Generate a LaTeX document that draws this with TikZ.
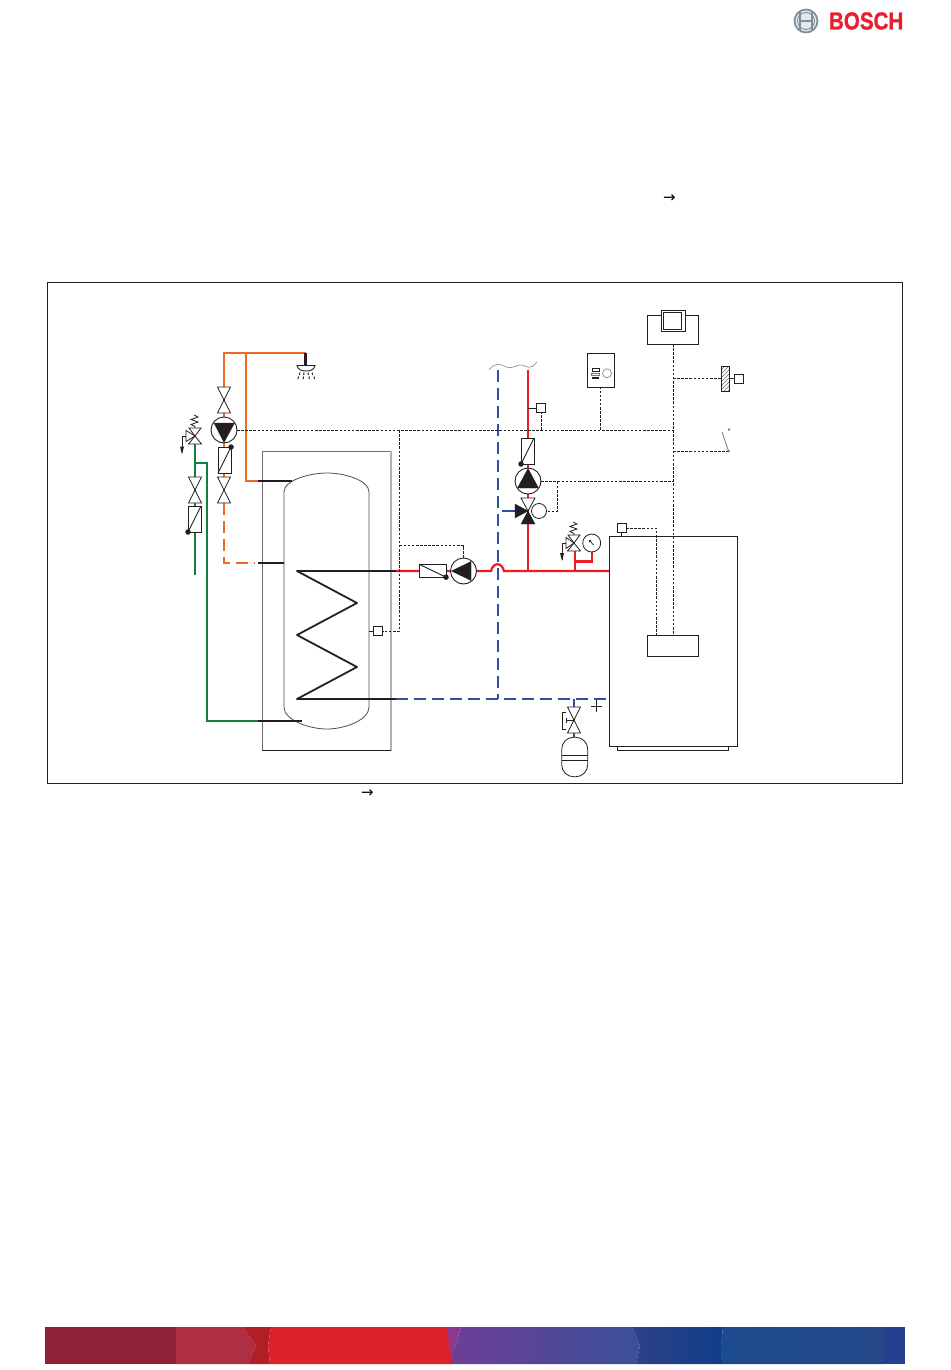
\documentclass[tikz,border=0pt]{standalone}
\usepackage{fontspec}
\usepackage{graphicx}
\newfontfamily\dejavu{DejaVu Sans}
\newfontfamily\boschfont[BoldFeatures={FakeBold=1.2}]{Liberation Sans}
\definecolor{pipeorange}{HTML}{F26A21}
\definecolor{pipegreen}{HTML}{0F8040}
\definecolor{pipered}{HTML}{ED1C24}
\definecolor{pipeblue}{HTML}{2F4FA2}
\definecolor{boschred}{HTML}{E8202E}
\definecolor{metal}{HTML}{7F8E99}
\definecolor{ink}{HTML}{231F20}
\definecolor{bandA}{HTML}{8F2136}
\definecolor{bandB}{HTML}{AE2E42}
\definecolor{bandC}{HTML}{B11F24}
\definecolor{bandD}{HTML}{DC2228}
\definecolor{bandE}{HTML}{8B3A8F}
\definecolor{bandF}{HTML}{25408F}
\definecolor{gradA}{HTML}{6E3E98}
\definecolor{gradB}{HTML}{3A5098}
\definecolor{gradC}{HTML}{2F4188}
\definecolor{gradD}{HTML}{0F3E88}
\definecolor{gradE}{HTML}{1C4B8E}
\definecolor{gradF}{HTML}{244888}
\tikzset{
  x=1pt,y=-1pt,
  pipe/.style={line width=2.2pt,line join=miter},
  orangepipe/.style={pipe,draw=pipeorange},
  greenpipe/.style={pipe,draw=pipegreen},
  redpipe/.style={pipe,draw=pipered},
  bluepipe/.style={pipe,draw=pipeblue},
  blackpipe/.style={pipe,draw=ink},
  longdash/.style={dash pattern=on 12pt off 6pt},
  signal/.style={draw=ink,line width=0.8pt,dash pattern=on 2.6pt off 1.5pt},
  thinline/.style={draw=ink,line width=0.9pt},
  box/.style={draw=ink,line width=0.9pt,fill=white,inner sep=0pt,outer sep=0pt,rectangle},
  pumpc/.style={draw=ink,line width=0.9pt,fill=white,circle,inner sep=0pt,outer sep=0pt,minimum size=26pt},
  solidtri/.style={fill=ink,draw=ink,line width=0.3pt},
  opentri/.style={fill=white,draw=ink,line width=0.8pt},
  dotmark/.style={fill=ink,draw=none,circle,inner sep=0pt,minimum size=5.5pt},
  valve/.pic={\draw[opentri] (-6.5,-13) -- (6.5,-13) -- (-6.5,13) -- (6.5,13) -- cycle;},
}
\begin{document}
\begin{tikzpicture}
\useasboundingbox (0,0) rectangle (950,1370);
% header logo
\node[draw=metal,line width=1.8pt,circle,minimum size=23pt,inner sep=0pt,fill=metal!20] (logo) at (806,21) {};
\draw[metal,line width=1.6pt] (800,12) -- (800,30) (812,12) -- (812,30) (800,21) -- (812,21);
\draw[metal,line width=0.9pt] (logo.center) circle (8.5);
\node[inner sep=0pt,outer sep=0pt,anchor=west,text=boschred] (brand) at (829,21) {\scalebox{0.84}[1]{\boschfont\fontsize{24.5}{24.5}\selectfont\bfseries BOSCH}};
% arrows in running text
\node[inner sep=0pt] (arrowtop) at (669.5,198.5) {\dejavu\fontsize{15}{15}\selectfont →};
\node[inner sep=0pt] (arrowcap) at (367.5,794) {\dejavu\fontsize{15}{15}\selectfont →};
% frame
\node[draw=ink,line width=0.8pt,rectangle,inner sep=0pt,minimum width=855pt,minimum height=501pt] (frame) at (474.5,532.5) {};
% footer band
\fill[bandA] (45,1327) rectangle (176,1364);
\fill[bandB] (176,1327) -- (243,1327) -- (256,1345.5) -- (248,1364) -- (176,1364) -- cycle;
\fill[bandC] (243,1327) -- (271,1327) -- (268,1345.5) -- (270,1364) -- (248,1364) -- (256,1345.5) -- cycle;
\fill[bandD] (271,1327) -- (447,1327) -- (455.5,1345.5) -- (452,1364) -- (270,1364) -- (268,1345.5) -- cycle;
\fill[bandE] (447,1327) -- (461,1327) -- (455.5,1345.5) -- (451,1364) -- (452,1364) -- cycle;
\shade[left color=gradA,right color=gradB] (461,1327) -- (632,1327) -- (640,1345.5) -- (636,1364) -- (451,1364) -- (455.5,1345.5) -- cycle;
\shade[left color=gradC,right color=gradD] (632,1327) -- (723,1327) -- (721,1345.5) -- (722,1364) -- (636,1364) -- (640,1345.5) -- cycle;
\shade[left color=gradE,right color=gradF] (723,1327) -- (883,1327) -- (883,1364) -- (722,1364) -- (721,1345.5) -- cycle;
\fill[bandF] (883,1327) rectangle (905,1364);

% named junctions
\coordinate (showerTop) at (305.5,353);
\coordinate (showerHead) at (305.5,365);
\coordinate (oCornerL) at (224,353);
\coordinate (oBranch) at (246,353);
\coordinate (oHot) at (246,481);
\coordinate (tankHotIn) at (258,481);
\coordinate (tankHot) at (292,481);
\coordinate (oRetTop) at (224,503);
\coordinate (oRetCorner) at (224,563);
\coordinate (oRetEnd) at (255,563);
\coordinate (tankRetIn) at (258,563);
\coordinate (tankRet) at (284,563);
\coordinate (gTop) at (195,443);
\coordinate (gEnd) at (195,575);
\coordinate (gBranch) at (195,463);
\coordinate (gA) at (207,463);
\coordinate (gB) at (207,721);
\coordinate (tankColdIn) at (258,721);
\coordinate (tankCold) at (302,721);
\coordinate (coilIn) at (297,571);
\coordinate (coilOut) at (297,699);
\coordinate (casingRedStart) at (396,571);
\coordinate (casingBlueStart) at (396,699);
\coordinate (hopA) at (491,571);
\coordinate (hopB) at (504,571);
\coordinate (riserFoot) at (528,571);
\coordinate (riserTop) at (528,370);
\coordinate (svFoot) at (575,571);
\coordinate (svTop) at (575,551);
\coordinate (gaugeCorner) at (591.7,561.5);
\coordinate (gaugeFoot) at (591.7,552);
\coordinate (svElbow) at (575,561.5);
\coordinate (boilerIn) at (609,571);
\coordinate (boilerOut) at (609,699);
\coordinate (blueTop) at (498,370);
\coordinate (blueFoot) at (498,699);
\coordinate (vesselT) at (574,699);
\coordinate (vesselB) at (574,737);
\coordinate (blueStub) at (502,511);
\coordinate (blueStubEnd) at (515,511);
\coordinate (busR) at (673,430);
\coordinate (busTop) at (673,344);
\coordinate (busBot) at (673,635);
\coordinate (busL) at (399.5,430);
\coordinate (busLB) at (399.5,631);
\coordinate (busJ) at (399.5,545.5);
\coordinate (busJ2) at (463.5,545.5);
\coordinate (mixJ) at (557.7,481.7);
\coordinate (mixJ2) at (557.7,511);
\coordinate (mixBus) at (673,481.7);
\coordinate (hatchJ) at (673,378);
\coordinate (switchJ) at (673,451);
\coordinate (switchA) at (728.5,451);
\coordinate (switchB) at (722,432);
\coordinate (ctrlJ) at (600.5,430);
\coordinate (snsJ) at (541,430);
\coordinate (bsnsA) at (656,528);
\coordinate (bsnsB) at (656,635);

% pipes
\draw[orangepipe] (oRetTop) -- (oCornerL) -- (oBranch) -- (showerTop);
\draw[orangepipe] (oBranch) -- (oHot) -- (tankHotIn);
\draw[orangepipe,longdash] (oRetTop) -- (oRetCorner) -- (oRetEnd);
\draw[blackpipe] (showerTop) -- (showerHead);
\draw[greenpipe] (gTop) -- (gEnd);
\draw[greenpipe] (gBranch) -- (gA) -- (gB) -- (tankColdIn);

% casing and tank
\node[draw=ink!65,line width=1pt,rectangle,inner sep=0pt,minimum width=128pt,minimum height=298.5pt] (casing) at (326.7,601) {};
\draw[ink!35,line width=1.5pt] (casing.north east) -- (casing.south east);
\draw[ink,line width=0.8pt] (casing.south west) -- (casing.south east);
\draw[ink!80,line width=0.8pt] (284,492) .. controls (284,480) and (310,473) .. (327,473) .. controls (344,473) and (369,480) .. (369,492) -- (369,707) .. controls (369,720) and (345,729) .. (327,729) .. controls (309,729) and (284,720) .. (284,707) -- cycle;
\draw[blackpipe,line width=1.9pt] (tankHotIn) -- (tankHot);
\draw[blackpipe,line width=1.9pt] (tankRetIn) -- (tankRet);
\draw[blackpipe,line width=1.9pt] (tankColdIn) -- (tankCold);
% coil
\draw[blackpipe,line width=1.8pt,line join=round] (casingRedStart) -- (coilIn) -- (357,603) -- (297,635) -- (357,667) -- (coilOut) -- (casingBlueStart);
% hot and return main
\draw[redpipe] (casingRedStart) -- (hopA) .. controls (493,562) and (502,562) .. (hopB) -- (boilerIn);
\draw[redpipe] (riserFoot) -- (riserTop);
\draw[redpipe] (svTop) -- (svFoot);
\draw[redpipe] (svElbow) -- (gaugeCorner) -- (gaugeFoot);
\draw[bluepipe,line width=1.6pt,longdash] (casingBlueStart) -- (boilerOut);
\draw[bluepipe,longdash] (blueTop) -- (blueFoot);
\draw[bluepipe] (vesselT) -- (vesselB);
\draw[bluepipe] (blueStub) -- (blueStubEnd);
% wave
\draw[ink!55,line width=0.6pt] (489,370) .. controls (495,362) and (501,364) .. (506,367) .. controls (512,370) and (517,364) .. (522,365) .. controls (527,366) and (530,371) .. (537,362);

% signal lines
\draw[signal] (busTop) -- (busBot);
\draw[signal] (237,430) -- (busR);
\draw[signal] (busL) -- (busLB) -- (382.5,631);
\draw[signal] (busJ) -- (busJ2) -- (463.5,558);
\draw[signal] (ctrlJ) -- (600.5,387);
\draw[signal] (snsJ) -- (541,413);
\draw[signal] (541,481.7) -- (mixBus);
\draw[signal] (mixJ) -- (mixJ2) -- (546.5,511);
\draw[signal] (hatchJ) -- (734.5,378);
\draw[signal] (switchJ) -- (switchA);
\draw[signal] (626,528) -- (bsnsA) -- (bsnsB);
\draw[ink!75,line width=0.6pt] (switchA) -- (switchB);
\fill[ink!70] (switchA) circle (1.3);
\fill[ink!60] (729,429.5) circle (1.3);

% left side components
\pic at (224,400) {valve};
\pic at (224,490) {valve};
\pic at (195,490) {valve};
\node[pumpc] (pumpDHW) at (224,430) {};
\draw[solidtri] (214,423) -- (234.5,423) -- (224,442.5) -- cycle;
\node[box,minimum width=13pt,minimum height=26pt] (fmDHW) at (224.5,460) {};
\draw[thinline] (fmDHW.south west) -- (fmDHW.north east);
\node[dotmark] (fmDHWdot) at (fmDHW.north east) {};
\node[box,minimum width=13pt,minimum height=26pt] (fmCold) at (194.5,519) {};
\draw[thinline] (fmCold.south west) -- (fmCold.north east);
\node[dotmark] (fmColddot) at (fmCold.south west) {};
% safety valve left
\draw[opentri] (195,436) -- (188.5,444) -- (201.5,444) -- cycle;
\draw[opentri] (195,436) -- (189,428) -- (201,428) -- cycle;
\draw[opentri] (195,436) -- (186,430.5) -- (186,441.5) -- cycle;
\draw[thinline,line width=0.8pt] (195,428) -- (195,426.5) -- (191,424.5) -- (198,422) -- (191,419.5) -- (198,417) -- (194,415);
\draw[thinline,line width=0.7pt] (186,436) -- (182,436) -- (182,452);
\fill[ink] (180,446.5) -- (184,446.5) -- (182,454.5) -- cycle;
% shower
\draw[fill=white,thinline] (297,365.5) -- (315,365.5) .. controls (314,370) and (310,371) .. (306,371) .. controls (302,371) and (298,370) .. (297,365.5) -- cycle;
\draw[ink,line width=1.5pt] (299,365.6) -- (312,365.6);
\foreach \dx/\dy/\sl in {300/372.5/-0.6,304/372.5/-0.3,308/372.5/0.3,312/372.5/0.6,298.5/376.5/-0.6,303.5/376.5/-0.3,309/376.5/0.3,314/376.5/0.6}{
  \draw[ink,line width=1pt] (\dx,\dy) -- ({\dx+\sl},{\dy+2.6});
}

% sensor on tank
\node[box,minimum width=9.5pt,minimum height=9.5pt] (snsTank) at (377.7,631) {};
\draw[thinline] (369,631) -- (snsTank.west);
% pump primary
\node[box,minimum width=27pt,minimum height=13pt] (fmPrim) at (432.5,570.7) {};
\draw[thinline] (fmPrim.north west) -- (fmPrim.south east);
\node[dotmark] (fmPrimdot) at (fmPrim.south east) {};
\node[pumpc] (pumpPrim) at (463.5,571) {};
\draw[solidtri] (451.5,571) -- (471,561.5) -- (471,580.5) -- cycle;

% riser components
\node[box,minimum width=9pt,minimum height=9pt] (snsHot) at (540.8,408.3) {};
\draw[thinline] (528,408.3) -- (snsHot.west);
\node[box,minimum width=13pt,minimum height=26pt] (fmHot) at (527.5,451) {};
\draw[thinline] (fmHot.south west) -- (fmHot.north east);
\node[dotmark] (fmHotdot) at (fmHot.south west) {};
\node[pumpc] (pumpHot) at (528,481) {};
\draw[solidtri] (528,468.5) -- (538.5,488) -- (517.5,488) -- cycle;
\draw[opentri] (528,511) -- (521,498) -- (535,498) -- cycle;
\draw[solidtri] (528,511) -- (515,504) -- (515,518) -- cycle;
\draw[solidtri] (528,511) -- (521,524) -- (535,524) -- cycle;
\node[draw=ink,line width=0.8pt,fill=white,circle,inner sep=0pt,minimum size=15pt] (mixMotor) at (539,511) {};

% controller
\node[box,minimum width=27pt,minimum height=34pt] (ctrl) at (600.5,370) {};
\draw[ink,line width=0.5pt,fill=white] (592,368) rectangle (599,370.8);
\draw[ink!60,line width=0.5pt,fill=white] (591.7,372.8) rectangle (599,375);
\fill[ink] (592,377) rectangle (599,379);
\draw[ink!60,line width=0.6pt] (607,373.3) circle (4.5);

% safety valve right + gauge
\draw[opentri] (574,543) -- (567.5,551) -- (580.5,551) -- cycle;
\draw[opentri] (574,543) -- (568,535) -- (580,535) -- cycle;
\draw[opentri] (574,543) -- (566,537.5) -- (566,548.5) -- cycle;
\draw[thinline,line width=0.8pt] (574,535) -- (574,533.5) -- (570,531.5) -- (577,529) -- (570,526.5) -- (577,524) -- (573,522);
\draw[thinline,line width=0.7pt] (566,543) -- (562,543) -- (562,560);
\fill[ink] (560,553) -- (564,553) -- (562,561) -- cycle;
\node[draw=ink,line width=0.8pt,fill=white,circle,inner sep=0pt,minimum size=18pt] (gauge) at (591.7,543) {};
\draw[ink,line width=0.7pt] (590,541) -- (593.5,545);
\fill[ink] (588.8,539.8) -- (591.6,540.6) -- (589.6,542.6) -- cycle;

% boiler
\node[box,fill=none,minimum width=128pt,minimum height=210.5pt] (boiler) at (673,641.5) {};
\draw[thinline] (617.3,746.8) -- (617.3,750.3) -- (728.7,750.3) -- (728.7,746.8);
\node[box,minimum width=51pt,minimum height=21pt] (bctrl) at (672.5,645.5) {};
\node[box,minimum width=9pt,minimum height=9pt] (snsBoil) at (621.7,528) {};
\draw[thinline] (snsBoil.south) -- (621.7,536);

% top controller
\node[box,minimum width=51pt,minimum height=29pt] (rc) at (672.5,329.5) {};
\draw[thinline,fill=white] (661,331.7) -- (661,310) -- (685.7,310) -- (685.7,331.7) -- cycle;
\draw[ink,line width=1.4pt] (661,310.3) -- (685.7,310.3);
\draw[thinline,fill=white] (663,312.7) rectangle (681.7,329);
% hatched box and sensor
\node[box,minimum width=8pt,minimum height=25pt] (hatch) at (725,378.5) {};
\begin{scope}
\clip (721,366) rectangle (729,391);
\foreach \q in {0,4,...,36}{\draw[ink!65,line width=0.5pt] (719,364+\q) -- (731,352+\q);}
\end{scope}
\draw[ink,line width=0.8pt] (721,366) rectangle (729,391);
\node[box,minimum width=8.5pt,minimum height=8.5pt] (snsOut) at (738.8,378.8) {};
\draw[signal] (hatch.east) -- (snsOut.west);

% expansion vessel and valve
\pic at (574,720) {valve};
\draw[thinline] (574,720) -- (566.7,720);
\draw[thinline] (566.7,717.5) -- (566.7,722.5);
\draw[thinline] (566,712.3) -- (562,712.3) -- (562,729) -- (566,729);
\node[draw=ink,line width=0.8pt,fill=white,rounded corners=12pt,rectangle,inner sep=0pt,minimum width=26pt,minimum height=39.5pt] (vessel) at (574.7,757) {};
\draw[thinline] (561.7,755.7) -- (587.7,755.7);
\draw[thinline] (561.7,760) -- (587.7,760);
% drain symbol
\draw[ink,line width=0.8pt] (596.7,700) -- (596.7,712) (591,706) -- (602,706);
\end{tikzpicture}
\end{document}
